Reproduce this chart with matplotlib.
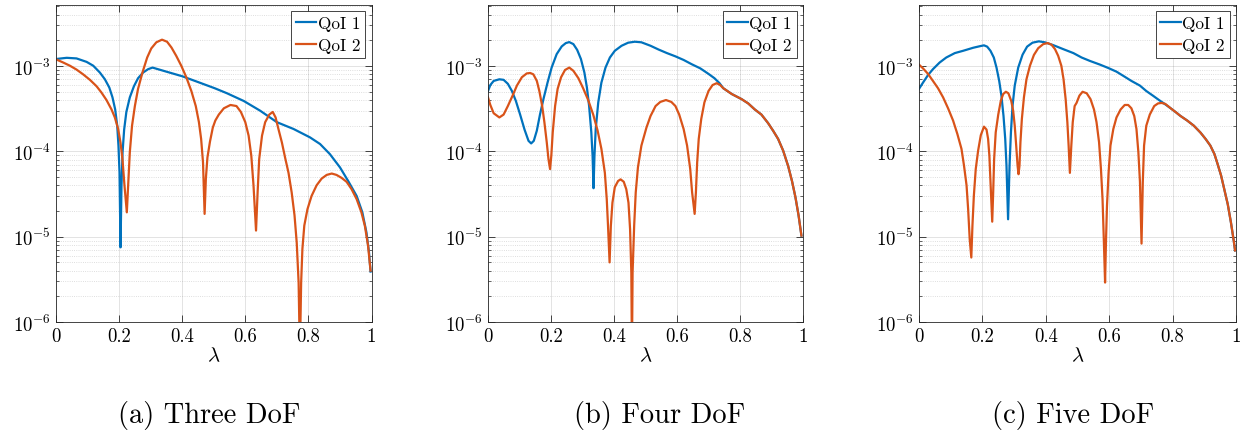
import numpy as np
import matplotlib
matplotlib.use('Agg')
import matplotlib.pyplot as plt
from matplotlib.ticker import FuncFormatter, LogLocator, NullFormatter

plt.rcParams['font.family'] = 'serif'
plt.rcParams['font.serif'] = ['cmr10']
plt.rcParams['mathtext.fontset'] = 'cm'
plt.rcParams['axes.formatter.use_mathtext'] = True
plt.rcParams['axes.unicode_minus'] = False

# ---- data ----
# (a) three DoF
lam_a1 = [0.0, 0.034, 0.065, 0.097, 0.118, 0.139, 0.155, 0.169, 0.179, 0.1876, 0.194, 0.198,
          0.2013, 0.2045, 0.2076, 0.211, 0.216, 0.223, 0.234, 0.247, 0.26, 0.276, 0.292,
          0.306, 0.35, 0.40, 0.455, 0.503, 0.542, 0.595, 0.647, 0.70, 0.753, 0.805, 0.837,
          0.868, 0.90, 0.926, 0.953, 0.971, 0.984, 0.992, 0.997]
qoi_a1 = [1.21e-3, 1.25e-3, 1.23e-3, 1.12e-3, 1.01e-3, 8.4e-4, 7.0e-4, 5.6e-4, 4.3e-4, 3.1e-4,
          2.0e-4, 1.16e-4, 5.7e-5, 7.5e-6, 4.0e-5, 9.8e-5, 1.8e-4, 2.9e-4, 4.3e-4, 5.8e-4,
          7.2e-4, 8.4e-4, 9.2e-4, 9.6e-4, 8.6e-4, 7.6e-4, 6.4e-4, 5.5e-4, 4.8e-4, 3.9e-4,
          3.0e-4, 2.2e-4, 1.83e-4, 1.46e-4, 1.22e-4, 9.3e-5, 6.5e-5, 4.5e-5, 3.0e-5, 1.93e-5,
          1.12e-5, 6.6e-6, 3.9e-6]
lam_a2 = [0.0, 0.023, 0.044, 0.065, 0.086, 0.1075, 0.1286, 0.144, 0.16, 0.176, 0.1865, 0.197,
          0.2044, 0.2107, 0.217, 0.2245, 0.2287, 0.234, 0.241, 0.25, 0.26, 0.274, 0.289,
          0.302, 0.318, 0.336, 0.352, 0.366, 0.381, 0.397, 0.413, 0.429, 0.443, 0.453, 0.46,
          0.466, 0.471, 0.475, 0.48, 0.488, 0.497, 0.505, 0.516, 0.532, 0.553, 0.572, 0.586,
          0.60, 0.6105, 0.619, 0.626, 0.634, 0.639, 0.644, 0.653, 0.663, 0.676, 0.687, 0.696,
          0.705, 0.716, 0.726, 0.737, 0.747, 0.756, 0.763, 0.769, 0.773, 0.777, 0.781, 0.787,
          0.797, 0.81, 0.826, 0.842, 0.858, 0.874, 0.889, 0.905, 0.921, 0.937, 0.953, 0.968,
          0.979, 0.989, 0.997]
qoi_a2 = [1.2e-3, 1.10e-3, 1.01e-3, 9.1e-4, 8.0e-4, 6.9e-4, 5.8e-4, 4.9e-4, 4.0e-4, 3.1e-4,
          2.5e-4, 1.83e-4, 1.27e-4, 8.1e-5, 4.0e-5, 1.93e-5, 4.0e-5, 9.8e-5, 2.0e-4, 3.4e-4,
          5.4e-4, 8.4e-4, 1.26e-3, 1.61e-3, 1.9e-3, 2.04e-3, 1.93e-3, 1.65e-3, 1.32e-3,
          1.01e-3, 7.4e-4, 5.1e-4, 3.4e-4, 2.2e-4, 1.4e-4, 7.4e-5, 1.85e-5, 4.8e-5, 8.5e-5,
          1.3e-4, 1.9e-4, 2.3e-4, 2.7e-4, 3.2e-4, 3.5e-4, 3.4e-4, 2.9e-4, 2.2e-4, 1.53e-4,
          8.9e-5, 4.0e-5, 1.18e-5, 3.3e-5, 8.1e-5, 1.53e-4, 2.2e-4, 2.7e-4, 2.9e-4, 2.5e-4,
          1.83e-4, 1.27e-4, 8.5e-5, 5.6e-5, 3.3e-5, 1.78e-5, 8.5e-6, 2.9e-6, 4e-7, 2.9e-6,
          7.2e-6, 1.35e-5, 2.1e-5, 3.0e-5, 4.0e-5, 4.8e-5, 5.3e-5, 5.5e-5, 5.3e-5, 4.9e-5,
          4.4e-5, 3.6e-5, 2.75e-5, 1.93e-5, 1.34e-5, 7.9e-6, 4.0e-6]

# (b) four DoF
tail_lam_b = [0.747, 0.774, 0.805, 0.826, 0.847, 0.868, 0.889, 0.905, 0.921, 0.937, 0.953,
              0.965, 0.976, 0.986, 0.995]
tail_qoi_b = [5.5e-4, 4.7e-4, 4.1e-4, 3.65e-4, 3.1e-4, 2.7e-4, 2.15e-4, 1.75e-4, 1.4e-4,
              1.02e-4, 6.7e-5, 4.5e-5, 2.9e-5, 1.77e-5, 1.03e-5]
lam_b1 = [0.0, 0.0074, 0.018, 0.036, 0.0495, 0.063, 0.076, 0.0885, 0.102, 0.116, 0.1286,
          0.137, 0.1454, 0.155, 0.165, 0.176, 0.189, 0.202, 0.218, 0.234, 0.247, 0.258, 0.271,
          0.283, 0.295, 0.306, 0.314, 0.321, 0.328, 0.332, 0.335, 0.338, 0.342, 0.35, 0.36,
          0.373, 0.387, 0.4025, 0.424, 0.445, 0.466, 0.487, 0.516, 0.542, 0.568, 0.595,
          0.621, 0.647, 0.674, 0.70, 0.719, 0.735]
qoi_b1 = [5.1e-4, 6.0e-4, 6.7e-4, 7.0e-4, 6.9e-4, 6.2e-4, 5.1e-4, 3.9e-4, 2.7e-4, 1.8e-4,
          1.33e-4, 1.24e-4, 1.33e-4, 1.75e-4, 2.7e-4, 4.1e-4, 6.4e-4, 9.6e-4, 1.38e-3, 1.7e-3,
          1.86e-3, 1.91e-3, 1.81e-3, 1.55e-3, 1.21e-3, 8.4e-4, 5.6e-4, 3.4e-4, 1.67e-4,
          8.9e-5, 3.7e-5, 8.9e-5, 1.83e-4, 3.75e-4, 6.4e-4, 9.6e-4, 1.26e-3, 1.51e-3, 1.73e-3,
          1.88e-3, 1.93e-3, 1.9e-3, 1.73e-3, 1.56e-3, 1.42e-3, 1.3e-3, 1.18e-3, 1.05e-3,
          9.4e-4, 8.1e-4, 7.2e-4, 6.3e-4]
lam_b2 = [0.0, 0.0074, 0.018, 0.036, 0.0495, 0.063, 0.078, 0.0917, 0.1075, 0.123, 0.134,
          0.144, 0.155, 0.163, 0.172, 0.179, 0.1865, 0.192, 0.197, 0.201, 0.2055, 0.213,
          0.221, 0.232, 0.2445, 0.258, 0.271, 0.287, 0.302, 0.318, 0.334, 0.348, 0.36, 0.371,
          0.377, 0.381, 0.386, 0.39, 0.395, 0.4025, 0.413, 0.421, 0.431, 0.439, 0.446, 0.451,
          0.455, 0.457, 0.459, 0.464, 0.469, 0.476, 0.487, 0.503, 0.516, 0.532, 0.547, 0.565,
          0.582, 0.595, 0.607, 0.621, 0.632, 0.642, 0.648, 0.656, 0.66, 0.664, 0.669, 0.677,
          0.687, 0.70, 0.713, 0.726, 0.737]
qoi_b2 = [4.3e-4, 3.5e-4, 2.8e-4, 2.5e-4, 2.7e-4, 3.4e-4, 4.5e-4, 5.9e-4, 7.4e-4, 8.2e-4,
          8.3e-4, 8.0e-4, 6.7e-4, 5.1e-4, 3.4e-4, 2.2e-4, 1.28e-4, 8.1e-5, 6.2e-5, 8.9e-5,
          1.67e-4, 3.4e-4, 5.4e-4, 7.4e-4, 9.0e-4, 9.6e-4, 8.8e-4, 7.2e-4, 5.5e-4, 4.0e-4,
          2.7e-4, 1.75e-4, 1.07e-4, 5.6e-5, 2.75e-5, 1.34e-5, 5.0e-6, 1.34e-5, 2.5e-5, 3.8e-5,
          4.5e-5, 4.7e-5, 4.4e-5, 3.6e-5, 2.5e-5, 1.23e-5, 3.8e-6, 4e-7, 3.8e-6, 1.34e-5,
          3.3e-5, 6.5e-5, 1.17e-4, 1.9e-4, 2.6e-4, 3.4e-4, 3.8e-4, 4.0e-4, 3.8e-4, 3.4e-4,
          2.7e-4, 1.83e-4, 1.17e-4, 6.2e-5, 3.3e-5, 1.85e-5, 3.3e-5, 7.4e-5, 1.4e-4, 2.4e-4,
          3.75e-4, 5.1e-4, 6.0e-4, 6.3e-4, 6.0e-4]

# (c) five DoF
tail_lam_c = [0.794, 0.809, 0.825, 0.846, 0.867, 0.888, 0.904, 0.919, 0.932, 0.942, 0.953,
              0.963, 0.974, 0.984, 0.993, 0.997]
tail_qoi_c = [3.2e-4, 2.9e-4, 2.6e-4, 2.3e-4, 2.0e-4, 1.66e-4, 1.4e-4, 1.17e-4, 9.3e-5,
              7.1e-5, 5.2e-5, 3.6e-5, 2.4e-5, 1.47e-5, 8.9e-6, 6.9e-6]
lam_c1 = [0.0, 0.0126, 0.0285, 0.044, 0.065, 0.086, 0.113, 0.139, 0.171, 0.192, 0.205, 0.215,
          0.2255, 0.236, 0.2445, 0.253, 0.26, 0.2666, 0.272, 0.276, 0.281, 0.2856, 0.29,
          0.295, 0.302, 0.313, 0.3267, 0.341, 0.358, 0.378, 0.397, 0.4236, 0.455, 0.487,
          0.513, 0.539, 0.571, 0.597, 0.623, 0.644, 0.67, 0.697, 0.717, 0.738, 0.757, 0.775]
qoi_c1 = [5.4e-4, 6.4e-4, 7.85e-4, 9.2e-4, 1.1e-3, 1.26e-3, 1.42e-3, 1.51e-3, 1.64e-3,
          1.71e-3, 1.75e-3, 1.69e-3, 1.51e-3, 1.26e-3, 9.6e-4, 6.7e-4, 4.5e-4, 2.6e-4,
          1.4e-4, 6.8e-5, 1.6e-5, 6.8e-5, 1.67e-4, 3.4e-4, 5.9e-4, 9.6e-4, 1.36e-3, 1.69e-3,
          1.88e-3, 1.95e-3, 1.9e-3, 1.76e-3, 1.58e-3, 1.42e-3, 1.26e-3, 1.15e-3, 1.04e-3,
          9.5e-4, 8.6e-4, 7.7e-4, 6.7e-4, 5.9e-4, 5.1e-4, 4.5e-4, 4.0e-4, 3.6e-4]
lam_c2 = [0.0, 0.0126, 0.0285, 0.044, 0.06, 0.076, 0.0917, 0.1075, 0.121, 0.134, 0.142, 0.15,
          0.155, 0.16, 0.165, 0.1686, 0.173, 0.179, 0.1865, 0.195, 0.205, 0.213, 0.218, 0.222,
          0.226, 0.231, 0.234, 0.237, 0.242, 0.25, 0.258, 0.2655, 0.274, 0.282, 0.291, 0.297,
          0.302, 0.3066, 0.311, 0.314, 0.317, 0.32, 0.3245, 0.331, 0.339, 0.35, 0.3625, 0.376,
          0.392, 0.406, 0.418, 0.429, 0.439, 0.449, 0.456, 0.4626, 0.468, 0.472, 0.476,
          0.4805, 0.485, 0.491, 0.497, 0.506, 0.516, 0.529, 0.541, 0.552, 0.56, 0.568, 0.574,
          0.579, 0.583, 0.587, 0.59, 0.593, 0.598, 0.604, 0.613, 0.623, 0.636, 0.649, 0.66,
          0.67, 0.679, 0.686, 0.692, 0.697, 0.702, 0.706, 0.71, 0.717, 0.728, 0.742, 0.754,
          0.765, 0.777]
qoi_c2 = [1.04e-3, 9.4e-4, 8.1e-4, 6.7e-4, 5.5e-4, 4.3e-4, 3.2e-4, 2.3e-4, 1.6e-4, 1.07e-4,
          6.8e-5, 4.0e-5, 2.1e-5, 9.3e-6, 5.7e-6, 1.35e-5, 3.0e-5, 6.2e-5, 1.02e-4, 1.55e-4,
          1.95e-4, 1.8e-4, 1.4e-4, 8.9e-5, 4.0e-5, 1.5e-5, 3.3e-5, 8.1e-5, 1.67e-4, 2.7e-4,
          3.9e-4, 4.7e-4, 5.0e-4, 4.8e-4, 3.9e-4, 3.0e-4, 2.0e-4, 1.17e-4, 6.8e-5, 5.4e-5,
          6.8e-5, 1.28e-4, 2.4e-4, 4.3e-4, 7.0e-4, 1.01e-3, 1.35e-3, 1.62e-3, 1.81e-3,
          1.86e-3, 1.78e-3, 1.58e-3, 1.32e-3, 1.01e-3, 7.0e-4, 4.1e-4, 2.2e-4, 1.17e-4,
          5.6e-5, 1.17e-4, 2.2e-4, 3.4e-4, 3.7e-4, 4.5e-4, 5.0e-4, 4.8e-4, 4.1e-4, 3.1e-4,
          2.2e-4, 1.28e-4, 6.2e-5, 2.75e-5, 9.3e-6, 2.9e-6, 9.3e-6, 2.3e-5, 5.6e-5, 1.17e-4,
          1.83e-4, 2.5e-4, 3.1e-4, 3.5e-4, 3.5e-4, 3.2e-4, 2.6e-4, 1.83e-4, 9.8e-5, 4.4e-5,
          8.3e-6, 4.4e-5, 1.17e-4, 2.0e-4, 2.7e-4, 3.4e-4, 3.65e-4, 3.7e-4, 3.6e-4]

captions = ['(a) Three DoF', '(b) Four DoF', '(c) Five DoF']
labels = ['QoI 1', 'QoI 2']
colors = ['#0072BD', '#D95319']

panels = [
    ((lam_a1, qoi_a1), (lam_a2, qoi_a2)),
    ((lam_b1 + tail_lam_b, qoi_b1 + tail_qoi_b), (lam_b2 + tail_lam_b, qoi_b2 + tail_qoi_b)),
    ((lam_c1 + tail_lam_c, qoi_c1 + tail_qoi_c), (lam_c2 + tail_lam_c, qoi_c2 + tail_qoi_c)),
]

W, H = 1248, 439
fig = plt.figure(figsize=(W / 100, H / 100), dpi=100)
lefts = [56, 488, 919]
widths = [315.5, 315, 317]
top, bottom = 6, 323
cap_x = [209, 660, 1073]

axc = (0.15, 0.15, 0.15)
for i, series in enumerate(panels):
    ax = fig.add_axes([lefts[i] / W, 1 - bottom / H, widths[i] / W, (bottom - top) / H])
    for (lx, ly), lab, c in zip(series, labels, colors):
        ax.plot(np.array(lx), np.array(ly), color=c, lw=1.6, label=lab,
                solid_joinstyle='round')
    ax.set_yscale('log')
    ax.set_xlim(0, 1)
    ax.set_ylim(1e-6, 5.2e-3)
    ax.set_xticks([0, 0.2, 0.4, 0.6, 0.8, 1])
    ax.xaxis.set_major_formatter(FuncFormatter(lambda v, _: f'{v:g}'))
    ax.yaxis.set_major_locator(LogLocator(base=10, numticks=10))
    ax.yaxis.set_minor_locator(LogLocator(base=10, subs=np.arange(2, 10), numticks=20))
    ax.yaxis.set_minor_formatter(NullFormatter())
    ax.grid(which='major', color=axc, alpha=0.15, lw=0.6)
    ax.grid(which='minor', axis='y', color=axc, alpha=0.2, lw=0.6, ls=':')
    ax.tick_params(which='both', direction='in', top=True, right=True, colors=axc,
                   labelcolor='black', labelsize=13.5)
    ax.tick_params(which='major', length=5, width=0.6)
    ax.tick_params(which='minor', length=2.5, width=0.5)
    for s in ax.spines.values():
        s.set_color(axc)
        s.set_linewidth(0.6)
    ax.set_xlabel(r'$\lambda$', fontsize=15, labelpad=1)
    leg = ax.legend(loc='upper right', fontsize=12.3, fancybox=False, framealpha=1,
                    edgecolor=axc, handlelength=1.2, handletextpad=0.1, borderpad=0.27,
                    labelspacing=0.39, borderaxespad=0.38)
    leg.get_frame().set_linewidth(0.6)
    fig.text(cap_x[i] / W, 1 - 415 / H, captions[i], ha='center', va='center', fontsize=20.5)

fig.savefig('out.png', dpi=100)
